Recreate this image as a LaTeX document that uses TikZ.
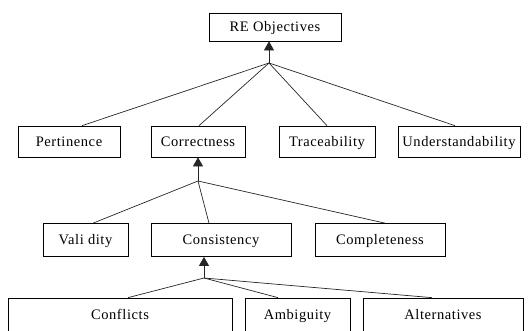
\documentclass[tikz,border=0pt]{standalone}
\usepackage{fontspec}
\setmainfont{Liberation Serif}[LetterSpace=4]
\usetikzlibrary{arrows.meta}
\tikzstyle{goal} = [rectangle,fill=white,draw=black,line width=0.7pt,inner sep=0pt,
minimum height=31pt, text height=12pt, text depth=2.4pt, font=\fontsize{14.5}{16}\selectfont]
\tikzstyle{link} = [draw=black!85,line width=0.7pt]
\tikzset{>={Triangle[width=10pt,length=9pt]}}
\newcommand{\refine}[2]{ %
  % Connect junction #1 to the tops of all nodes #2 (name/xshift).
  \foreach \t/\dx in {#2} { %
    \draw[link] (#1) -- ([xshift=\dx pt]\t.north) ;%
  } ;
}

\begin{document}
\begin{tikzpicture}[x=1pt,y=-1pt]
  \clip (0,0) rectangle (530,330);
  \node[goal, minimum width=132pt, minimum height=28pt] (reobj) at (275,27) {RE Objectives};

  \node[goal, minimum width=102pt] (pert) at (69,141.5) {Pertinence};
  \node[goal, minimum width=94pt] (corr) at (198,141.5) {Correctness};
  \node[goal, minimum width=96pt] (trace) at (327,141.5) {Traceability};
  \node[goal, minimum width=122pt] (under) at (459,141.5) {Understandability};

  \node[goal, minimum width=85pt, minimum height=33pt] (valid) at (85.5,240) {Vali dity};
  \node[goal, minimum width=140pt, minimum height=33pt] (consis) at (221,240) {Consistency};
  \node[goal, minimum width=130pt, minimum height=33pt] (compl) at (380,240) {Completeness};

  \node[goal, minimum width=224pt, minimum height=34pt] (conf) at (120,315) {Conflicts};
  \node[goal, minimum width=105pt, minimum height=34pt] (amb) at (297.5,315) {Ambiguity};
  \node[goal, minimum width=160pt, minimum height=34pt] (alt) at (443,315) {Alternatives};

  \coordinate (j1) at (269,63);
  \coordinate (j2) at (198,181);
  \coordinate (j3) at (204,278);

  \draw[link,->] (j1) -- ([xshift=-6pt]reobj.south);
  \draw[link,->] (j2) -- (corr.south);
  \draw[link,->] (j3) -- ([xshift=-17pt]consis.south);

  \refine {j1} {pert/13, corr/1, trace/0, under/-4};
  \refine {j2} {valid/7.5, consis/-12, compl/5};
  \refine {j3} {conf/8, amb/-19.5, alt/-11};
\end{tikzpicture}
\end{document}
